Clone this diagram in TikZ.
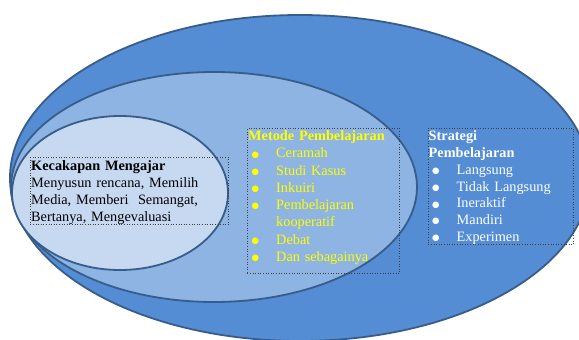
\documentclass[tikz,border=0pt]{standalone}
\usepackage{fontspec}
\setmainfont{Liberation Serif}
\newfontfamily\symfont{DejaVu Sans}
\usetikzlibrary{shapes.geometric}
\definecolor{outerblue}{RGB}{84,141,212}
\definecolor{midblue}{RGB}{142,180,227}
\definecolor{innerblue}{RGB}{198,217,241}
\definecolor{ringline}{RGB}{56,93,138}
\definecolor{listyellow}{RGB}{255,255,0}
\newcommand\bulletitem[1]{\makebox[28pt][l]{\hspace{3.5pt}\raisebox{0.7pt}{\symfont\fontsize{8.5}{8.5}\selectfont ●}}#1}
\begin{document}
\begin{tikzpicture}[x=1pt,y=-1pt,
  ring/.style={ellipse, draw=ringline, line width=1.8pt, inner sep=0pt},
  textbox/.style={draw=black!75, dotted, line width=0.6pt, inner sep=0pt, anchor=north west},
  boxtext/.style={anchor=north west, inner sep=0pt, align=left}]
\useasboundingbox (0,0) rectangle (579,340);
\clip (0,0) rectangle (579,340);
\fill[white] (0,0) rectangle (579,340);
\node[ring, fill=outerblue, minimum width=580pt, minimum height=326pt] (strategi) at (300,178) {};
\node[ring, fill=midblue, minimum width=406pt, minimum height=230pt] (metode) at (214,187) {};
\node[ring, fill=innerblue, minimum width=216pt, minimum height=154pt] (kecakapan) at (120,193) {};
% text boxes
\node[textbox, minimum width=198pt, minimum height=67pt] (kbox) at (30,157) {};
\node[textbox, minimum width=152pt, minimum height=145pt] (mbox) at (247,128) {};
\node[textbox, minimum width=145pt, minimum height=116pt] (sbox) at (428,128) {};
\node[boxtext, text width=196pt, font=\fontsize{14.3}{17}\selectfont, text=black] (ktext) at ([shift={(1,3)}]kbox.north west)
  {\textbf{Kecakapan Mengajar}\\Menyusun rencana, Memilih\\Media, Memberi\ \ Semangat,\\Bertanya, Mengevaluasi};
\node[boxtext, text width=150pt, font=\fontsize{14.3}{17.3}\selectfont, text=listyellow] (mtext) at ([shift={(1,2.3)}]mbox.north west)
  {\textbf{Metode Pembelajaran}\\\bulletitem{Ceramah}\\\bulletitem{Studi Kasus}\\\bulletitem{Inkuiri}\\\bulletitem{Pembelajaran}\\\hspace*{28pt}kooperatif\\\bulletitem{Debat}\\\bulletitem{Dan sebagainya}};
\node[boxtext, text width=143pt, font=\fontsize{14.3}{16.8}\selectfont, text=white] (stext) at ([shift={(0.5,2.5)}]sbox.north west)
  {\textbf{Strategi}\\\textbf{Pembelajaran}\\\bulletitem{Langsung}\\\bulletitem{Tidak Langsung}\\\bulletitem{Ineraktif}\\\bulletitem{Mandiri}\\\bulletitem{Experimen}};
\end{tikzpicture}
\end{document}
